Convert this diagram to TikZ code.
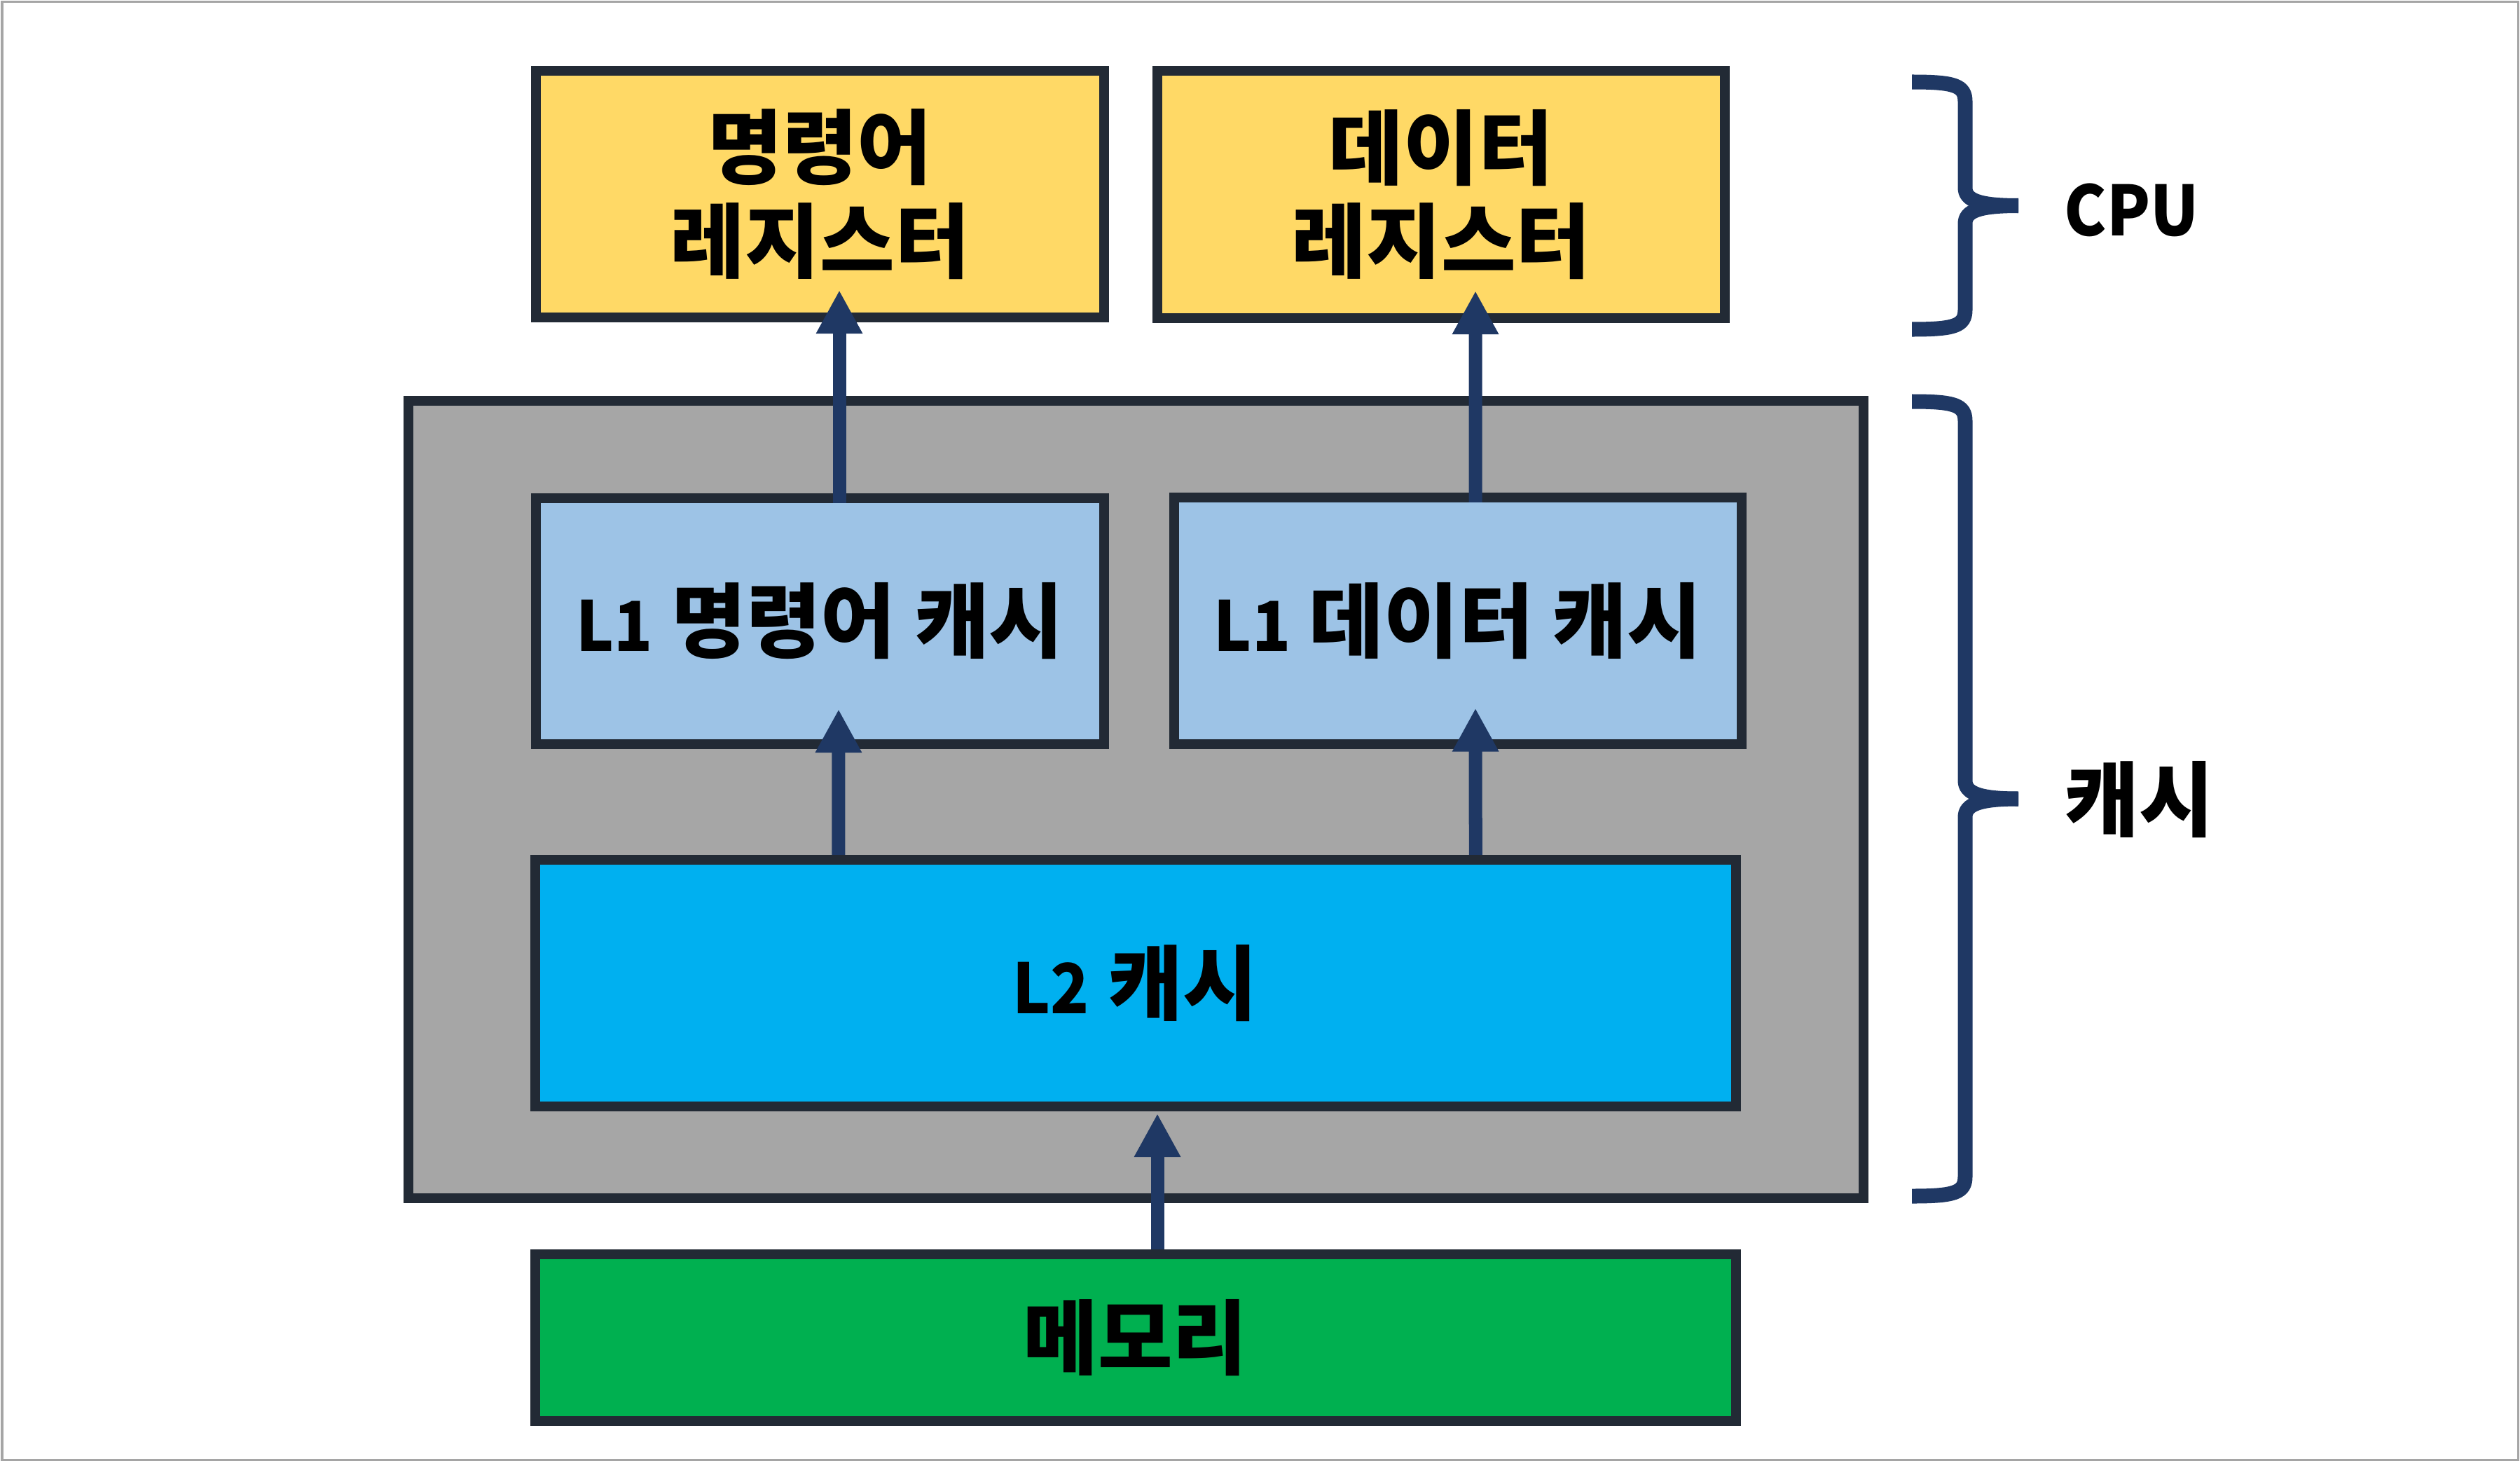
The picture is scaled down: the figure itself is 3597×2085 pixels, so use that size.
\documentclass[tikz,border=0pt]{standalone}
\usepackage{fontspec}
\setmainfont{Noto Sans CJK KR}
\newfontfamily\latin{Noto Sans CJK KR}[FakeStretch=0.92]
\usetikzlibrary{arrows.meta}
\definecolor{bdr}{HTML}{222A35}
\definecolor{navy}{HTML}{1F3864}
\definecolor{yel}{HTML}{FFD966}
\definecolor{lblue}{HTML}{9DC3E6}
\definecolor{cyanb}{HTML}{00B0F0}
\definecolor{grn}{HTML}{00B050}
\definecolor{greyb}{HTML}{A6A6A6}
\definecolor{frame}{HTML}{A5A5A5}
\newcommand{\lat}[1]{{\latin\bfseries\fontsize{28pt}{38pt}\selectfont #1}}
\tikzset{
  txt/.style={font=\fontsize{33pt}{38pt}\selectfont\bfseries},
  box/.style={draw=bdr, line width=0.14cm, inner sep=0pt, align=center, txt},
  arr/.style={draw=navy, line width=0.19cm, -{Triangle[length=0.62cm,width=0.62cm]}},
  brc/.style={draw=navy, line width=0.21cm},
  lbl/.style={anchor=west, inner sep=0pt, txt}
}
\begin{document}
\begin{tikzpicture}[x=0.01cm,y=-0.01cm]
\useasboundingbox (0,0) rectangle (3597,2085);
\draw[frame, line width=0.03cm] (3,3) rectangle (3594,2083);
% grey cache container
\node[box, fill=greyb, minimum width=20.75cm, minimum height=11.38cm] (cache) at (1621.5,1141) {};
% registers
\node[box, fill=yel, minimum width=8.11cm, minimum height=3.52cm] (ireg) at (1170.5,277) {명령어\\레지스터};
\node[box, fill=yel, minimum width=8.10cm, minimum height=3.53cm] (dreg) at (2057,277.5) {데이터\\레지스터};
% L1 caches
\node[box, fill=lblue, minimum width=8.11cm, minimum height=3.51cm] (l1i) at (1170.5,886.5) {\lat{L1} 명령어 캐시};
\node[box, fill=lblue, minimum width=8.10cm, minimum height=3.52cm] (l1d) at (2081,886) {\lat{L1} 데이터 캐시};
% L2
\node[box, fill=cyanb, minimum width=17.13cm, minimum height=3.52cm] (l2) at (1620.5,1403) {\lat{L2} 캐시};
% memory
\node[box, fill=grn, minimum width=17.13cm, minimum height=2.38cm] (mem) at (1620.5,1909) {메모리};
% arrows
\draw[arr] ([xshift=0.275cm,yshift=-0.14cm]l1i.north) -- ([xshift=0.275cm,yshift=0.46cm]ireg.south);
\draw[arr] ([xshift=0.25cm,yshift=-0.14cm]l1d.north) -- ([xshift=0.49cm,yshift=0.46cm]dreg.south);
\draw[arr] ([xshift=-4.235cm]l2.north) -- ([xshift=0.265cm,yshift=0.57cm]l1i.south);
\draw[arr] ([xshift=4.855cm]l2.north) -- ([xshift=0.25cm,yshift=0.585cm]l1d.south);
\draw[arr] ([xshift=0.315cm]mem.north) -- ([xshift=0.315cm,yshift=-0.03cm]l2.south);
% braces
\draw[brc] (2729,117) .. controls (2790,117) and (2805,122) .. (2805,145) -- (2805,268) .. controls (2805,286) and (2825,293.5) .. (2881,293.5);
\draw[brc] (2881,293.5) .. controls (2825,293.5) and (2805,301) .. (2805,319) -- (2805,442) .. controls (2805,465) and (2790,470) .. (2729,470);
\draw[brc] (2729,573) .. controls (2790,573) and (2805,578) .. (2805,601) -- (2805,1114) .. controls (2805,1132) and (2825,1140) .. (2881,1140);
\draw[brc] (2881,1140) .. controls (2825,1140) and (2805,1148) .. (2805,1166) -- (2805,1679) .. controls (2805,1702) and (2790,1707) .. (2729,1707);
% labels
\node[lbl] (cpul) at (2946,300) {\lat{CPU}};
\node[lbl] (cachel) at (2946,1141) {캐시};
\end{tikzpicture}
\end{document}
